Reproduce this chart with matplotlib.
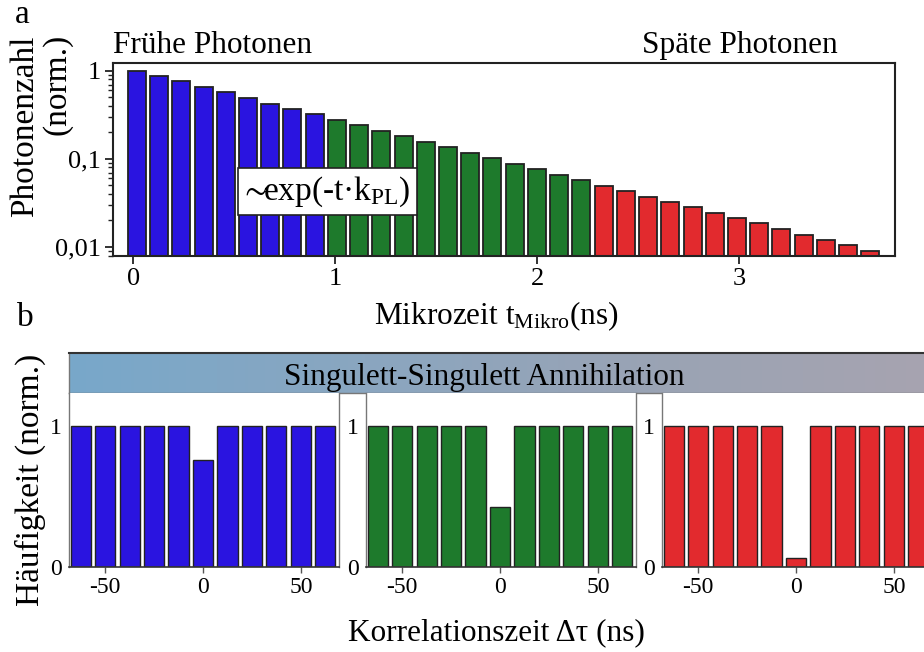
import numpy as np
import matplotlib
matplotlib.use("Agg")
import matplotlib.pyplot as plt
from matplotlib.colors import LinearSegmentedColormap
from matplotlib.ticker import LogLocator, FixedLocator, FixedFormatter, NullFormatter

plt.rcParams["font.family"] = ["Liberation Serif", "DejaVu Serif"]
plt.rcParams["mathtext.fontset"] = "custom"
plt.rcParams["mathtext.rm"] = "Liberation Serif"
plt.rcParams["mathtext.it"] = "Liberation Serif:italic"
plt.rcParams["mathtext.bf"] = "Liberation Serif:bold"
plt.rcParams["mathtext.fallback"] = "stix"

# --- Mikrozeit-Histogramm (normiert) ---
early_counts = [1.0, 0.87, 0.764, 0.653, 0.573, 0.490, 0.426, 0.370, 0.322]
middle_counts = [0.279, 0.240, 0.206, 0.180, 0.156, 0.136, 0.117, 0.102,
                 0.0878, 0.0764, 0.0665, 0.0573]
late_counts = [0.0499, 0.0430, 0.0374, 0.0325, 0.0283, 0.0246, 0.0212,
               0.0185, 0.0159, 0.0138, 0.0119, 0.0104, 0.0089]
bin_width_ns = 0.11
first_bin_ns = 0.018

# --- Korrelationshistogramme ---
tau_ns = [-62.5, -50, -37.5, -25, -12.5, 0, 12.5, 25, 37.5, 50, 62.5]
g_early = [1, 1, 1, 1, 1, 0.757, 1, 1, 1, 1, 1]
g_middle = [1, 1, 1, 1, 1, 0.423, 1, 1, 1, 1, 1]
g_late = [1, 1, 1, 1, 1, 0.062, 1, 1, 1, 1, 1]

ytick_vals = [0.01, 0.1, 1]
ytick_text = ["0,01", "0,1", "1"]

BLUE = "#2a14e0"
GREEN = "#1e7a2c"
RED = "#e22a2e"

W, H = 924, 652
fig = plt.figure(figsize=(W / 100, H / 100), dpi=100)


def box(x0, y0, x1, y1):
    """pixel box (top-left origin) -> figure fraction rect"""
    return [x0 / W, 1 - y1 / H, (x1 - x0) / W, (y1 - y0) / H]


# ---------------- panel a ----------------
ax = fig.add_axes(box(113, 63, 895, 256))
groups = [(early_counts, BLUE), (middle_counts, GREEN), (late_counts, RED)]
idx = 0
for counts, col in groups:
    n = len(counts)
    x = first_bin_ns + bin_width_ns * np.arange(idx, idx + n)
    ax.bar(x, np.array(counts) - 1e-3, bottom=1e-3, width=0.089,
           color=col, edgecolor="#222222", linewidth=1.3)
    idx += n

ax.set_yscale("log")
ax.set_ylim(0.0079, 1.23)
ax.set_xlim(-0.1, 3.77)
ax.yaxis.set_major_locator(FixedLocator(ytick_vals))
ax.yaxis.set_major_formatter(FixedFormatter(ytick_text))
ax.yaxis.set_minor_locator(LogLocator(base=10, subs=np.arange(2, 10)))
ax.yaxis.set_minor_formatter(NullFormatter())
ax.set_xticks([0, 1, 2, 3])
ax.set_xticklabels(["0", "1", "2", "3"])
ax.tick_params(axis="both", which="major", direction="out", length=6,
               width=1.3, labelsize=19, pad=3, color="#222222")
ax.tick_params(axis="y", which="minor", direction="out", length=3.5,
               width=1.0, color="#222222")
for s in ax.spines.values():
    s.set_linewidth(1.5)
    s.set_color("#222222")

ax.text(0.274, 0.334, r"$\!\!\!\sim\!\!$exp(-t·k$_\mathrm{PL}$)",
        transform=ax.transAxes, fontsize=24, ha="center", va="center",
        bbox=dict(boxstyle="square,pad=0.2", facecolor="white",
                  edgecolor="#222222", linewidth=1.2))

fig.text(113 / W, 1 - 53 / H, "Frühe Photonen", fontsize=22.5,
         ha="left", va="baseline")
fig.text(642 / W, 1 - 53 / H, "Späte Photonen", fontsize=22.5,
         ha="left", va="baseline")
fig.text(496 / W, 1 - 324 / H, r"Mikrozeit t$_\mathrm{Mikro}$(ns)",
         fontsize=22.5, ha="center", va="baseline")
fig.text(25 / W, 1 - 126 / H, "Photonenzahl", fontsize=24, rotation=90,
         ha="center", va="center")
fig.text(57 / W, 1 - 84 / H, "(norm.)", fontsize=24, rotation=90,
         ha="center", va="center")
fig.text(22 / W, 1 - 15 / H, "a", fontsize=24, ha="center", va="center")

# ---------------- panel b ----------------
fig.text(25 / W, 1 - 318 / H, "b", fontsize=24, ha="center", va="center")

banner = fig.add_axes(box(69, 353, 950, 393))
grad_cmap = LinearSegmentedColormap.from_list(
    "banner", ["#78a8ca", "#8aa6c0", "#9aa3b4", "#a8a3b0"])
banner.imshow(np.linspace(0, 1, 256)[None, :], aspect="auto", cmap=grad_cmap,
              extent=(0, 1, 0, 1))
banner.set_xticks([])
banner.set_yticks([])
banner.spines["top"].set_color("#333333")
banner.spines["top"].set_linewidth(1.5)
for side in ("bottom", "left", "right"):
    banner.spines[side].set_color("#777777")
    banner.spines[side].set_linewidth(1.0)
fig.text(484 / W, 1 - 378 / H, "Singulett-Singulett Annihilation",
         fontsize=22.5, ha="center", va="center")

panel_left = [69, 366, 662]
for left, vals, col in zip(panel_left, [g_early, g_middle, g_late],
                           [BLUE, GREEN, RED]):
    bx = fig.add_axes(box(left, 393, left + 270, 567))
    bx.bar(tau_ns, vals, width=10.3, color=col, edgecolor="#222222",
           linewidth=1.0)
    bx.set_xlim(-68.5, 69.5)
    bx.set_ylim(0, 1.234)
    bx.set_xticks([-50, 0, 50])
    bx.set_xticklabels(["-50", "0", "50"])
    bx.set_yticks([0, 1])
    bx.set_yticklabels(["0", "1"])
    bx.tick_params(axis="x", direction="out", length=4, width=1.0,
                   labelsize=17, pad=3, color="#555555")
    bx.tick_params(axis="y", length=0, labelsize=17, pad=5)
    bx.spines["top"].set_visible(False)
    bx.spines["bottom"].set_color("#333333")
    bx.spines["bottom"].set_linewidth(1.2)
    for side in ("left", "right"):
        bx.spines[side].set_color("#777777")
        bx.spines[side].set_linewidth(1.0)

fig.text(30 / W, 1 - 480 / H, "Häufigkeit (norm.)", fontsize=24,
         rotation=90, ha="center", va="center")
fig.text(496 / W, 1 - 633 / H, "Korrelationszeit Δτ (ns)", fontsize=22.5,
         ha="center", va="center")

fig.savefig("out.png", dpi=100)
